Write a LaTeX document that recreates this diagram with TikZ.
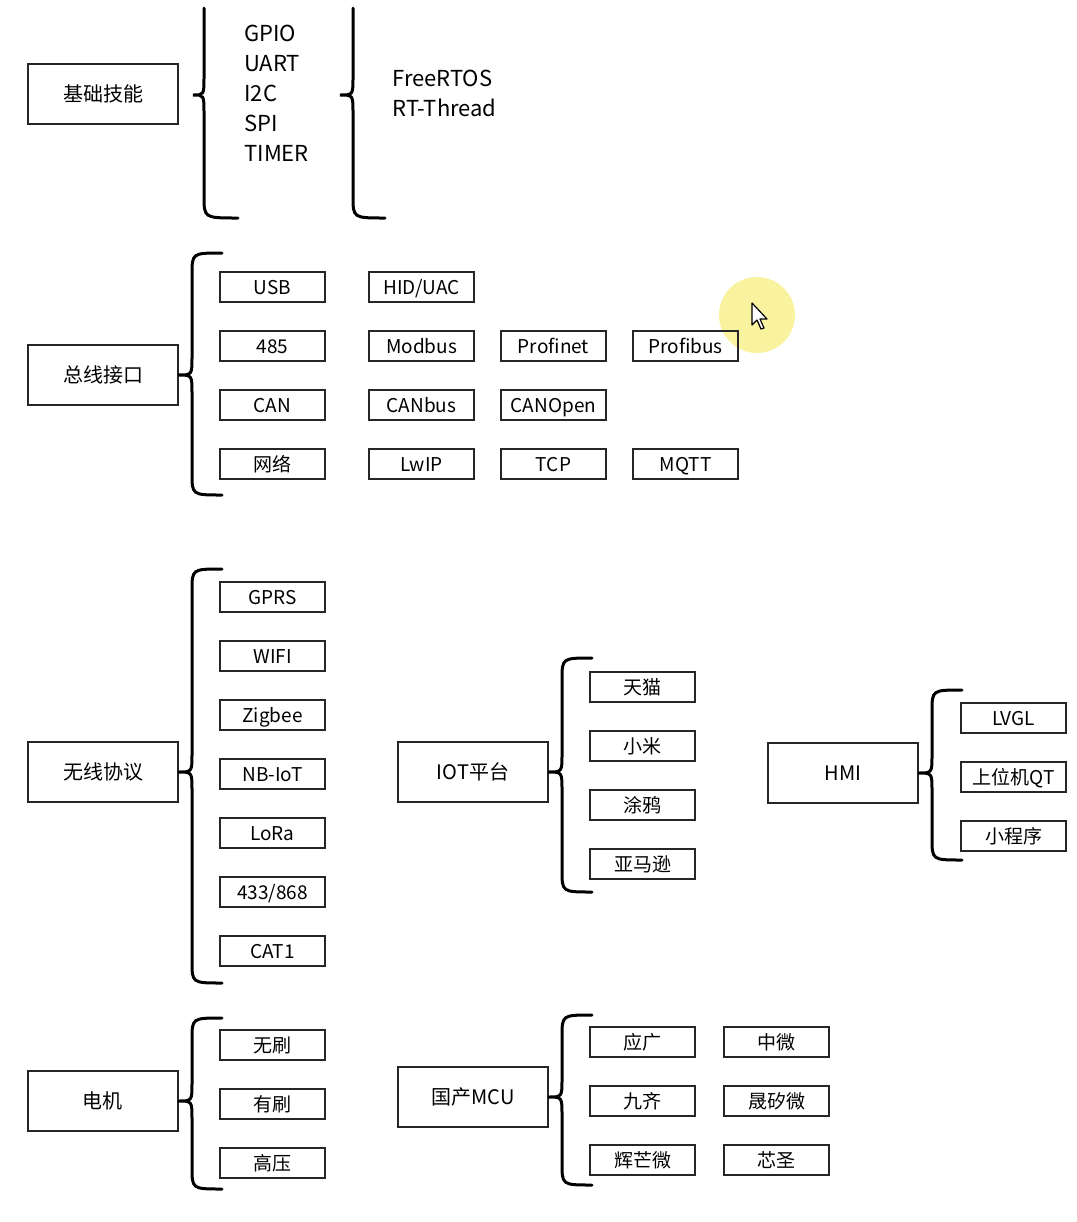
\documentclass[tikz,border=0pt]{standalone}
\usepackage{fontspec}
\setmainfont{Noto Sans CJK SC}
\usepackage{tikz}
\usetikzlibrary{positioning}

% curly brace: tip, mid y, spine x, top y, bottom y, top end x, bottom end x
\newcommand{\curly}[7]{%
  \draw[brace] (#6,#4) .. controls (#3,#4) .. (#3,#4+22)
    -- (#3,#2-18) .. controls (#3,#2) .. (#1)
    .. controls (#3,#2) .. (#3,#2+18)
    -- (#3,#5-22) .. controls (#3,#5) .. (#7,#5);}

\begin{document}
\begin{tikzpicture}[x=0.5pt, y=-0.5pt,
						topic/.style={
							rectangle,
							draw=black!85, line width=1pt,
							minimum width=75pt,
							minimum height=30pt,
							inner sep=0pt, outer sep=0pt,
							text height=9.5pt, text depth=1.9pt,
							font=\fontsize{10}{12}\selectfont
						},
						item/.style={
							rectangle,
							draw=black!85, line width=1pt,
							minimum width=52.5pt,
							minimum height=15pt,
							inner sep=0pt, outer sep=0pt,
							text height=9pt, text depth=1.8pt,
							font=\fontsize{9.5}{11}\selectfont
						},
						words/.style={
							anchor=west, align=left, inner sep=0pt,
							font=\fontsize{11}{15}\selectfont
						},
						brace/.style={draw=black, line width=1.5pt, line cap=round}]

						\useasboundingbox (0,0) rectangle (1077,1222);

						% Mouse highlight
						\fill[fill={rgb,255:red,246;green,238;blue,120}, fill opacity=0.7] (757,315) circle (38);

						%% Basic skills
						\node [topic] (basic) at (103,94) {基础技能};
						\coordinate (tipA) at (193,95);
						\coordinate (tipB) at (340,95);
						\curly{tipA}{95}{204}{8}{218}{204}{238}
						\curly{tipB}{95}{353}{8}{218}{353}{385}
						\node [words] (periph) at (244,93) {GPIO\\UART\\I2C\\SPI\\TIMER};
						\node [words] (rtos) at (392,93) {FreeRTOS\\RT-Thread};

						%% Bus interfaces
						\node [topic] (bus) at (103,375) {总线接口};
						\curly{bus.east}{375}{192}{253}{495}{222}{222}
						\node [item] (usb) at (272.5,287) {USB};
						\node [item, right=22pt of usb] (hid) {HID/UAC};
						\node [item, below=14.5pt of usb] (rs485) {485};
						\node [item, right=22pt of rs485] (modbus) {Modbus};
						\node [item, right=13.5pt of modbus] (profinet) {Profinet};
						\node [item, right=13.5pt of profinet] (profibus) {Profibus};
						\node [item, below=14.5pt of rs485] (can) {CAN};
						\node [item, right=22pt of can] (canbus) {CANbus};
						\node [item, right=13.5pt of canbus] (canopen) {CANOpen};
						\node [item, below=14.5pt of can] (net) {网络};
						\node [item, right=22pt of net] (lwip) {LwIP};
						\node [item, right=13.5pt of lwip] (tcp) {TCP};
						\node [item, right=13.5pt of tcp] (mqtt) {MQTT};

						%% Wireless protocols
						\node [topic] (wireless) at (103,772) {无线协议};
						\curly{wireless.east}{772}{192}{569}{983}{222}{222}
						\node [item] (gprs) at (272.5,597) {GPRS};
						\node [item, below=14.5pt of gprs] (wifi) {WIFI};
						\node [item, below=14.5pt of wifi] (zigbee) {Zigbee};
						\node [item, below=14.5pt of zigbee] (nbiot) {NB-IoT};
						\node [item, below=14.5pt of nbiot] (lora) {LoRa};
						\node [item, below=14.5pt of lora] (ism) {433/868};
						\node [item, below=14.5pt of ism] (cat) {CAT1};

						%% IOT platforms
						\node [topic] (iot) at (473,772) {IOT平台};
						\curly{iot.east}{772}{562}{658}{892}{592}{592}
						\node [item] (tmall) at (642.5,687) {天猫};
						\node [item, below=14.5pt of tmall] (mi) {小米};
						\node [item, below=14.5pt of mi] (tuya) {涂鸦};
						\node [item, below=14.5pt of tuya] (amazon) {亚马逊};

						%% HMI
						\node [topic] (hmi) at (843,773) {HMI};
						\curly{hmi.east}{773}{932}{690}{860}{962}{962}
						\node [item] (lvgl) at (1013.5,718) {LVGL};
						\node [item, below=14.5pt of lvgl] (qt) {上位机QT};
						\node [item, below=14.5pt of qt] (mini) {小程序};

						%% Motors
						\node [topic] (motor) at (103,1101) {电机};
						\curly{motor.east}{1101}{192}{1018}{1189}{222}{222}
						\node [item] (brushless) at (272.5,1045) {无刷};
						\node [item, below=14.5pt of brushless] (brushed) {有刷};
						\node [item, below=14.5pt of brushed] (hv) {高压};

						%% Domestic MCU
						\node [topic] (mcu) at (473,1097) {国产MCU};
						\curly{mcu.east}{1097}{562}{1015}{1185}{592}{592}
						\node [item] (yg) at (642.5,1042) {应广};
						\node [item, right=14.5pt of yg] (zw) {中微};
						\node [item, below=14.5pt of yg] (jq) {九齐};
						\node [item, right=14.5pt of jq] (ssw) {晟矽微};
						\node [item, below=14.5pt of jq] (hmw) {辉芒微};
						\node [item, right=14.5pt of hmw] (xs) {芯圣};

						% Mouse pointer
						\draw[fill=white, line width=0.6pt, line join=round] (752,303) -- (752,325) -- (757,320)
							-- (761,329) -- (764,328) -- (760,319) -- (767,319) -- cycle;
					\end{tikzpicture}
\end{document}
